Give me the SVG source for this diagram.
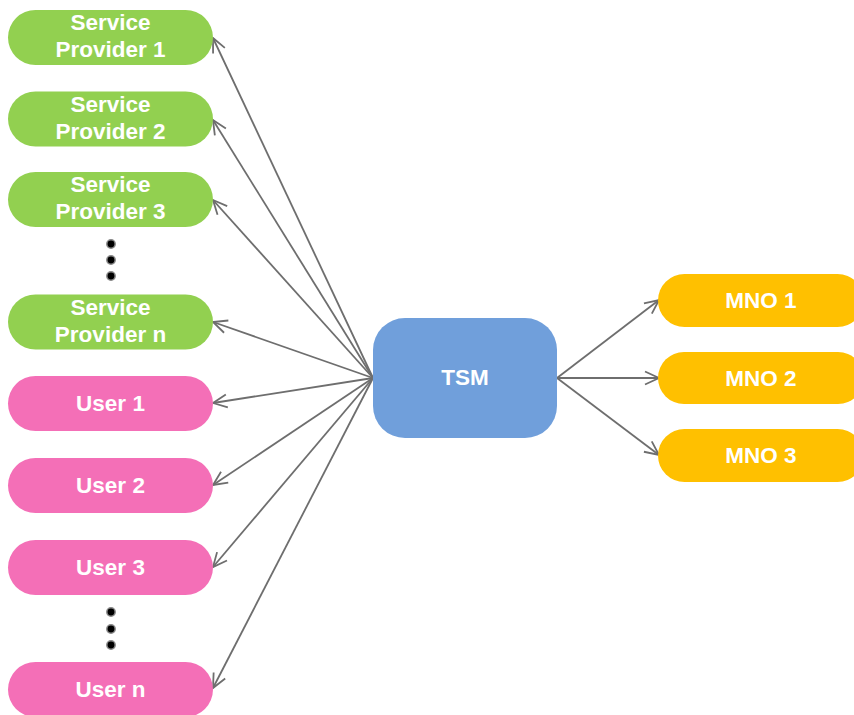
<svg xmlns="http://www.w3.org/2000/svg" width="854" height="715" viewBox="0 0 854 715">
  <defs>
    <marker id="arrow" viewBox="0 0 16 16" refX="15" refY="8" markerWidth="16" markerHeight="16" markerUnits="userSpaceOnUse" orient="auto">
      <path d="M1,1.5 L15,8 L1,14.5" fill="none" stroke="#6e6e6e" stroke-width="1.8" stroke-linejoin="miter"/>
    </marker>
  </defs>
  <style>
    .sp { fill: #92d050; }
    .user { fill: #f46fb7; }
    .mno { fill: #ffc000; }
    .tsm { fill: #709fdb; }
    .label { font-family: "Liberation Sans", Arial, sans-serif; font-weight: bold; font-size: 22.5px; fill: #ffffff; text-anchor: middle; }
    .edge { stroke: #6e6e6e; stroke-width: 1.8; fill: none; marker-end: url(#arrow); }
    .dot { fill: #000000; stroke: #8a8a8a; stroke-width: 1.5; }
  </style>
  <rect width="854" height="715" fill="#ffffff"/>

  <!-- TSM fans out to every provider, user and MNO -->
  <g id="connectors">
    <line class="edge" x1="373" y1="378" x2="213" y2="38"/>
    <line class="edge" x1="373" y1="378" x2="213" y2="120"/>
    <line class="edge" x1="373" y1="378" x2="213" y2="200"/>
    <line class="edge" x1="373" y1="378" x2="213" y2="322"/>
    <line class="edge" x1="373" y1="378" x2="213" y2="403"/>
    <line class="edge" x1="373" y1="378" x2="213" y2="485"/>
    <line class="edge" x1="373" y1="378" x2="213" y2="567"/>
    <line class="edge" x1="373" y1="378" x2="213" y2="688"/>
    <line class="edge" x1="557" y1="378" x2="659" y2="300"/>
    <line class="edge" x1="557" y1="378" x2="659" y2="378"/>
    <line class="edge" x1="557" y1="378" x2="659" y2="455"/>
  </g>

  <g id="sp1">
    <rect class="sp" x="8" y="10" width="205" height="55" rx="27.5"/>
    <text class="label" x="110.5" y="30">Service</text>
    <text class="label" x="110.5" y="57">Provider 1</text>
  </g>
  <g id="sp2">
    <rect class="sp" x="8" y="91.5" width="205" height="55" rx="27.5"/>
    <text class="label" x="110.5" y="111.5">Service</text>
    <text class="label" x="110.5" y="138.5">Provider 2</text>
  </g>
  <g id="sp3">
    <rect class="sp" x="8" y="172" width="205" height="55" rx="27.5"/>
    <text class="label" x="110.5" y="192">Service</text>
    <text class="label" x="110.5" y="219">Provider 3</text>
  </g>
  <g id="sp-dots">
    <circle class="dot" cx="111" cy="244" r="4.2"/>
    <circle class="dot" cx="111" cy="260" r="4.2"/>
    <circle class="dot" cx="111" cy="276" r="4.2"/>
  </g>
  <g id="spn">
    <rect class="sp" x="8" y="294.5" width="205" height="55" rx="27.5"/>
    <text class="label" x="110.5" y="314.5">Service</text>
    <text class="label" x="110.5" y="341.5">Provider n</text>
  </g>

  <g id="user1">
    <rect class="user" x="8" y="376" width="205" height="55" rx="27.5"/>
    <text class="label" x="110.5" y="411">User 1</text>
  </g>
  <g id="user2">
    <rect class="user" x="8" y="458" width="205" height="55" rx="27.5"/>
    <text class="label" x="110.5" y="493">User 2</text>
  </g>
  <g id="user3">
    <rect class="user" x="8" y="540" width="205" height="55" rx="27.5"/>
    <text class="label" x="110.5" y="575">User 3</text>
  </g>
  <g id="user-dots">
    <circle class="dot" cx="111" cy="612" r="4.2"/>
    <circle class="dot" cx="111" cy="629" r="4.2"/>
    <circle class="dot" cx="111" cy="645" r="4.2"/>
  </g>
  <g id="usern">
    <rect class="user" x="8" y="662" width="205" height="55" rx="27.5"/>
    <text class="label" x="110.5" y="697">User n</text>
  </g>

  <g id="tsm">
    <rect class="tsm" x="373" y="318" width="184" height="120" rx="32"/>
    <text class="label" x="465" y="385">TSM</text>
  </g>

  <g id="mno1">
    <rect class="mno" x="658" y="274" width="206" height="53" rx="26.5"/>
    <text class="label" x="761" y="308">MNO 1</text>
  </g>
  <g id="mno2">
    <rect class="mno" x="658" y="352" width="206" height="52" rx="26"/>
    <text class="label" x="761" y="386">MNO 2</text>
  </g>
  <g id="mno3">
    <rect class="mno" x="658" y="429" width="206" height="53" rx="26.5"/>
    <text class="label" x="761" y="463">MNO 3</text>
  </g>
</svg>
